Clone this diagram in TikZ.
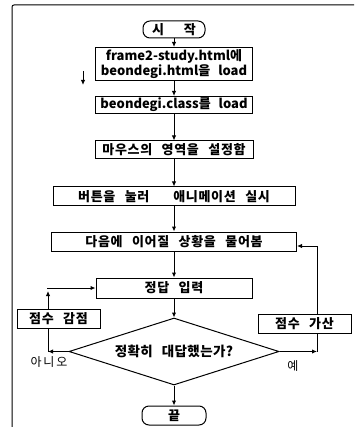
\documentclass[tikz,border=0pt]{standalone}
\usepackage{fontspec}
\setmainfont{Noto Sans CJK KR}
\usetikzlibrary{shapes.geometric,arrows.meta}
\newcommand\latinfont{\fontsize{13}{14.5}\selectfont\bfseries\spaceskip 8pt\relax}
\newcommand\kofont{\fontsize{13}{15}\selectfont\bfseries\addfontfeature{LetterSpace=5}\spaceskip 9.5pt\relax}
\newcommand\askfont{\fontsize{13.5}{16}\selectfont\bfseries\addfontfeature{LetterSpace=3}\spaceskip 9pt\relax}
\newcommand\labfont{\fontsize{12}{14}\selectfont\addfontfeature{LetterSpace=15}}
\begin{document}
\begin{tikzpicture}[x=1pt,y=-1pt,line width=1pt,font=\latinfont,
	ko/.style={font=\kofont},
	lab/.style={font=\labfont},
	box/.style={draw,inner sep=0pt,minimum height=18pt},
	term/.style={draw,rounded corners=7pt,inner sep=0pt,minimum width=62pt,minimum height=17pt},
	decide/.style={draw,diamond,inner sep=0pt,minimum width=210pt,minimum height=67pt},
	arr/.style={-{Latex[length=5pt,width=4.5pt]}}]
	\useasboundingbox (0,0) rectangle (354,427);
	\draw[rounded corners=2pt](12,427) -- (12,5) -- (354,5);
	\node[term,ko] (start) at (174,29.5) {시\hspace{20pt}작};
	\node[box,minimum width=157pt,minimum height=33pt,align=center] (load1) at (174,64) {frame2-study.html에\\beondegi.html을 load};
	\node[box,minimum width=157pt,minimum height=17pt] (load2) at (174,105) {beondegi.class를 load};
	\node[box,ko,minimum width=158pt] (area) at (174,150) {마우스의 영역을 설정함};
	\node[box,ko,minimum width=242pt,minimum height=19pt] (anim) at (174,196.5) {버튼을 눌러\hspace{24pt}애니메이션 실시};
	\node[box,ko,minimum width=245pt,minimum height=19pt] (next) at (174,241.5) {다음에 이어질 상황을 물어봄};
	\node[box,ko,minimum width=156pt,minimum height=20pt] (answer) at (174,288) {정답 입력};
	\node[box,ko,minimum width=83pt,minimum height=19pt] (minus) at (58.5,318.5) {점수 감점};
	\node[decide] (check) at (174,351.5) {};
	\node[font=\askfont] (checktext) at (check) {정확히 대답했는가?};
	\node[box,ko,minimum width=93pt,minimum height=19pt] (plus) at (304.5,323.5) {점수 가산};
	\node[term,ko,minimum width=64pt,minimum height=19pt] (finish) at (174,415.5) {끝};
	\node[lab] (nolabel) at (49,362) {아니오};
	\node[lab] (yeslabel) at (293,366) {예};
	\coordinate (s1) at (83,71);
	\coordinate (s2) at (83,85);
	\coordinate (nobend) at (48,351.5);
	\coordinate (noup) at (48,291);
	\coordinate (noin) at (47,288);
	\coordinate (yesbend) at (317,351.5);
	\coordinate (yestop) at (317,246);
	\draw[arr](s1) -- (s2);
	\draw[arr](start) -- (load1);
	\draw[arr](load1) -- (load2);
	\draw[arr](load2) -- (area);
	\draw[arr](area) -- (anim);
	\draw[arr](anim) -- (next);
	\draw[arr](next) -- (answer);
	\draw[arr](answer) -- (check);
	\draw[arr](check) -- (finish);
	\draw[arr](check.west) -- (nobend);
	\draw(nobend) -- (nobend |- minus.south);
	\draw[arr](noup |- minus.north) -- (noup);
	\draw[arr](noin) -- (answer.west);
	\draw[arr](check.east) -- (yesbend);
	\draw(yesbend) -- (yesbend |- plus.south);
	\draw(yestop |- plus.north) -- (yestop);
	\draw[arr](yestop) -- (yestop -| next.east);
\end{tikzpicture}
\end{document}
